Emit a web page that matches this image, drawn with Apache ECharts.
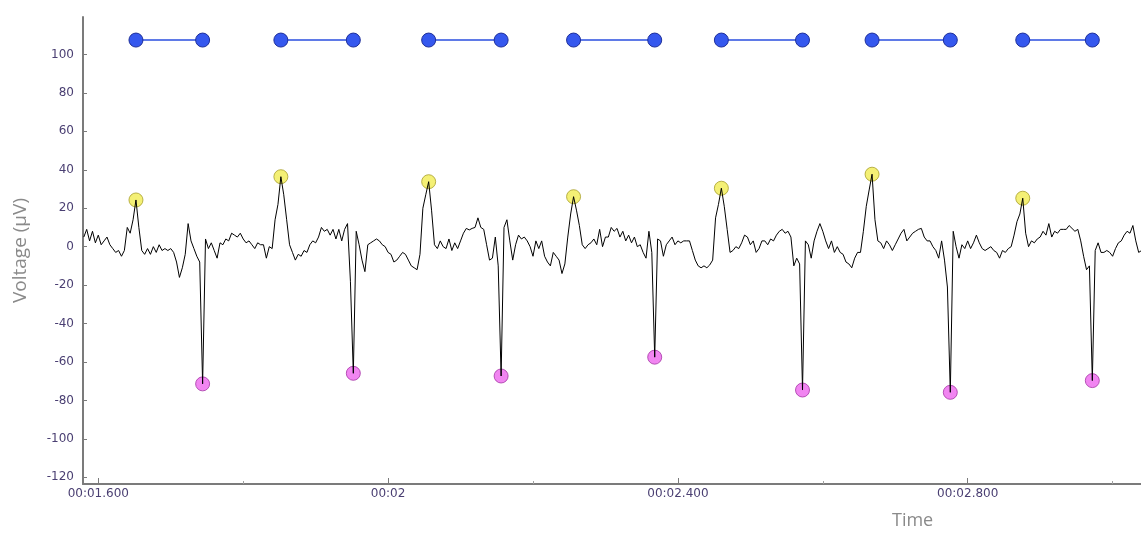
<!DOCTYPE html>
<html>
<head>
<meta charset="utf-8">
<title>Voltage trace</title>
<script src="https://cdn.jsdelivr.net/npm/echarts@6.0.0/dist/echarts.min.js"></script>
<style>
  html, body { margin: 0; padding: 0; background: #ffffff; }
  #chart { width: 1141px; height: 536px; }
</style>
</head>
<body>
<div id="chart"></div>
<script>
// Sampled recording: first sample time (s) and sample spacing (s)
const sampleStart = 1.580;
const sampleStep = 0.004;

// Recorded voltage (µV), one value per sample
const voltage = [
  5, 9, 3, 8, 2, 6, 1, 3, 5, 1,
  -1, -3, -2, -5, -2, 10, 7, 14, 24.3, 10,
  -2, -4, -1, -4, 0, -3, 1, -2, -1, -2,
  -1, -3, -8, -16, -11, -4, 12, 3, -1, -5,
  -8, -71.4, 4, -1, 2, -2, -6, 2, 1, 4,
  3, 7, 6, 5, 7, 4, 2, 3, 1, -1,
  2, 1, 1, -6, 0, -1, 14, 22, 36.4, 27,
  14, 1, -3, -7, -4, -5, -2, -3, 1, 3,
  2, 5, 10, 8, 9, 6, 9, 4, 9, 3,
  9, 12, -18, -65.9, 8, 1, -7, -13, 1, 2,
  3, 4, 3, 1, 0, -3, -4, -8, -7, -5,
  -3, -4, -7, -10, -11, -12, -4, 20, 27, 33.8,
  19, 1, -1, 3, 0, -1, 4, -2, 2, -1,
  3, 7, 9.5, 8.7, 9.5, 10, 15, 10, 9, 1,
  -7, -6, 5, -10, -67.3, 10, 14, 3, -7, 1,
  6, 4, 5, 3, 0, -5, 3, -1, 3, -5,
  -8, -10, -3, -5, -7, -14, -9, 5, 17, 26.0,
  19, 11, 1, -1, 1, 2, 4, 1, 9, 0,
  5, 5, 10, 8, 9.5, 5, 8, 3, 6, 2,
  5, 0, 1, -3, -6, 8, -3, -57.5, 4, 3,
  -5, 1, 3, 5, 1, 3, 2, 3, 3, 3,
  -2, -7, -10, -11, -10, -11, -9.5, -7, 15, 22,
  30.4, 21, 9, -3, -2, 0, -1, 2, 6, 5,
  1, 3, -3, -1, 3, 3, 1, 4, 3, 6,
  8, 9, 7, 8, 5, -10, -6, -9, -74.6, 3,
  1, -6, 3, 8, 12, 8, 3, -1, 3, -3,
  0, -3, -4, -8, -9, -11, -6, -3, -3, 8,
  21, 29.5, 37.7, 14, 3, 2, -1, 3, 1, -2,
  1, 4, 7, 9, 3, 5, 7, 8, 9, 9.5,
  5, 3, 3, 0, -2, -6, 3, -7, -21, -75.8,
  8, 0, -6, 1, -1, 3, -1, 2, 6, 2,
  -1, -2, -1, 0, -2, -3, -6, -2, -3, -1,
  0, 6, 13, 17, 25.2, 7, 0, 3, 2, 4,
  5, 8, 6, 12, 5, 8, 7, 9, 9, 9,
  11, 9.5, 8, 9, 3, -5, -12, -10, -69.7, -2,
  2, -3, -3, -2, -3, -5, -1, 2, 3, 6,
  8, 7, 11, 3, -3, -2
];

// Detected peaks (yellow) and troughs (magenta)
const peakTimes = [1.652, 1.852, 2.056, 2.256, 2.460, 2.668, 2.876];
const peakValues = [24.3, 36.4, 33.8, 26.0, 30.4, 37.7, 25.2];
const troughTimes = [1.744, 1.952, 2.156, 2.368, 2.572, 2.776, 2.972];
const troughValues = [-71.4, -65.9, -67.3, -57.5, -74.6, -75.8, -69.7];

// Level at which each peak-to-trough interval is drawn
const intervalLevel = 107.5;

// Axis extents and tick positions
const timeMin = 1.5789;
const timeMax = 3.0392;
const timeLabelTicks = [1.6, 2.0, 2.4, 2.8];
const timeMinorTicks = [1.8, 2.2, 2.6, 3.0];
const voltMin = -123.5;
const voltMax = 119.5;
const voltTicks = [-120, -100, -80, -60, -40, -20, 0, 20, 40, 60, 80, 100];

function formatTime(t) {
  const whole = Math.round(t);
  if (Math.abs(t - whole) < 1e-6) {
    return '00:' + String(whole).padStart(2, '0');
  }
  const s = t.toFixed(3);
  return '00:' + s.padStart(6, '0');
}

const traceData = voltage.map((v, k) => [+(sampleStart + k * sampleStep).toFixed(4), v]);
const peakData = peakTimes.map((t, i) => [t, peakValues[i]]);
const troughData = troughTimes.map((t, i) => [t, troughValues[i]]);
const intervalData = [];
peakTimes.forEach((t, i) => {
  intervalData.push([t, intervalLevel], [troughTimes[i], intervalLevel], [troughTimes[i], '-']);
});

const axisGray = '#7b7b7b';
const labelColor = '#4a3f72';

const chart = echarts.init(document.getElementById('chart'), null, { renderer: 'canvas' });
chart.setOption({
  animation: false,
  backgroundColor: '#ffffff',
  grid: { left: 83, right: 0, top: 17, bottom: 52 },
  title: {
    text: 'Time',
    left: 892,
    top: 512,
    padding: 0,
    textStyle: { fontFamily: 'Open Sans', fontSize: 18, fontWeight: 'normal', color: '#8a8a8a' }
  },
  xAxis: [
    {
      type: 'value',
      min: timeMin,
      max: timeMax,
      axisLine: { show: true, onZero: false, lineStyle: { color: axisGray, width: 2 } },
      axisTick: { show: true, inside: true, length: 6, customValues: timeLabelTicks, lineStyle: { color: axisGray } },
      axisLabel: {
        customValues: timeLabelTicks,
        formatter: formatTime,
        color: labelColor,
        fontFamily: 'DejaVu Sans',
        fontSize: 12,
        margin: 4
      },
      splitLine: { show: false }
    },
    {
      type: 'value',
      min: timeMin,
      max: timeMax,
      position: 'bottom',
      axisLine: { show: false, onZero: false },
      axisTick: { show: true, inside: true, length: 3, customValues: timeMinorTicks, lineStyle: { color: '#a0a0a0' } },
      axisLabel: { show: false },
      splitLine: { show: false }
    }
  ],
  yAxis: {
    type: 'value',
    min: voltMin,
    max: voltMax,
    name: 'Voltage (µV)',
    nameLocation: 'middle',
    nameGap: 53,
    nameTextStyle: { fontFamily: 'Open Sans', fontSize: 19, color: '#8a8a8a' },
    axisLine: { show: true, onZero: false, lineStyle: { color: axisGray, width: 2 } },
    axisTick: { show: true, inside: true, length: 4, customValues: voltTicks, lineStyle: { color: axisGray } },
    axisLabel: {
      customValues: voltTicks,
      color: labelColor,
      fontFamily: 'DejaVu Sans',
      fontSize: 12,
      margin: 9
    },
    splitLine: { show: false }
  },
  series: [
    {
      name: 'Peaks',
      type: 'scatter',
      data: peakData,
      symbol: 'circle',
      symbolSize: 14,
      itemStyle: { color: '#f1ec52', borderColor: '#a79f2a', borderWidth: 1 },
      z: 2
    },
    {
      name: 'Troughs',
      type: 'scatter',
      data: troughData,
      symbol: 'circle',
      symbolSize: 14,
      itemStyle: { color: '#ee66ee', borderColor: '#a534a5', borderWidth: 1 },
      z: 2
    },
    {
      name: 'Voltage',
      type: 'line',
      data: traceData,
      showSymbol: false,
      symbol: 'none',
      lineStyle: { color: '#000000', width: 1 },
      clip: true,
      z: 3
    },
    {
      name: 'Intervals',
      type: 'line',
      data: intervalData,
      connectNulls: false,
      symbol: 'circle',
      symbolSize: 14,
      showSymbol: true,
      lineStyle: { color: '#2b4fe0', width: 1.5 },
      itemStyle: { color: '#3558ee', borderColor: '#1e2f9a', borderWidth: 1 },
      z: 4
    }
  ]
});
</script>
</body>
</html>
